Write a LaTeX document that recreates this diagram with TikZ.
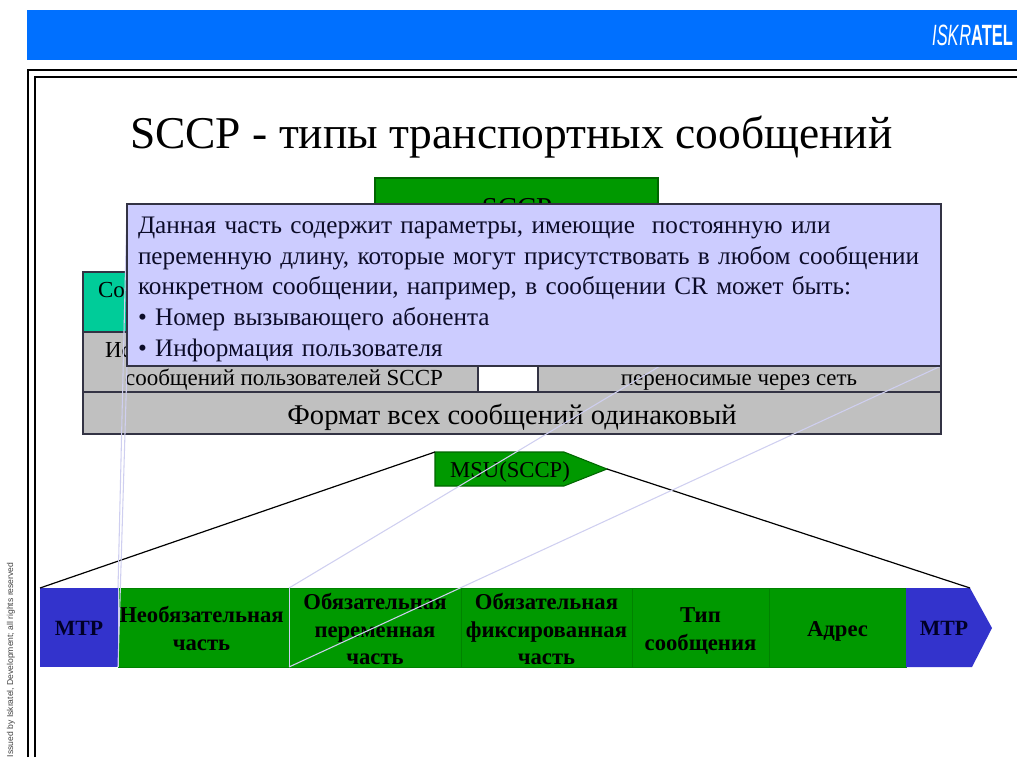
\documentclass[tikz,border=0pt]{standalone}
\usepackage{fontspec}
\setmainfont{Liberation Serif}
\setsansfont{Liberation Sans}
\usetikzlibrary{calc}
\pgfdeclarelayer{front}
\pgfsetlayers{main,front}
\def\px{0.75pt}
\definecolor{hdrblue}{HTML}{0070FF}
\definecolor{sgreen}{HTML}{009900}
\definecolor{edgegreen}{HTML}{006600}
\definecolor{barblue}{HTML}{3333CC}
\definecolor{teal}{HTML}{00CC99}
\definecolor{sgrey}{HTML}{C0C0C0}
\definecolor{callfill}{HTML}{CCCCFF}
\definecolor{calledge}{HTML}{333344}
\definecolor{leader}{HTML}{CFCFF0}
\definecolor{darktext}{HTML}{0C0C28}
\tikzset{
  block/.style={anchor=north west,inner sep=0pt,outer sep=0pt,draw=calledge,line width=1.1pt},
  sgreenbox/.style={block,fill=sgreen,draw=edgegreen,line width=.8pt},
  greybox/.style={block,fill=sgrey},
  seg/.style={anchor=north west,inner sep=0pt,outer sep=0pt,fill=sgreen,draw=sgreen!85!black,line width=.5pt,
     minimum height=79*\px},
  segtext/.style={inner sep=0pt,outer sep=0pt,align=center,font=\fontsize{17}{20.6}\selectfont\bfseries},
  mtpbox/.style={anchor=north west,inner sep=0pt,outer sep=0pt,fill=barblue,minimum height=79*\px},
  mtptext/.style={inner sep=0pt,outer sep=0pt,text=black!85!blue,font=\fontsize{16.3}{20}\selectfont\bfseries},
  frameline/.style={line width=1.7pt,black},
  leaderline/.style={leader,line width=.8pt},
  zoomline/.style={black,line width=.9pt},
  plain/.style={inner sep=0pt,outer sep=0pt},
}
\begin{document}
\begin{tikzpicture}[x=0.75pt,y=-0.75pt]
\useasboundingbox (0,0) rectangle (1024,767);
% header
\node[anchor=north west,inner sep=0pt,outer sep=0pt,fill=hdrblue,minimum width=990*\px,minimum height=50*\px] (hdr) at (27,10) {};
\node[plain,text=white] (logo) at (972.5,35) {\sffamily\fontsize{22}{22}\selectfont\scalebox{.56}[1]{\textit{ISK}\textit{R}\textbf{ATEL}}};
% frame
\coordinate (o1) at (28,757); \coordinate (o2) at (28,70); \coordinate (o3) at (1017,70);
\coordinate (i1) at (35,757); \coordinate (i2) at (35,77); \coordinate (i3) at (1017,77);
\draw[frameline] (o1) -- (o2) -- (o3);
\draw[frameline] (i1) -- (i2) -- (i3);
\node[plain,rotate=90,anchor=west,text=black!75,font=\sffamily\fontsize{6.43}{7}\selectfont] (issued) at (11,757) {Issued by Iskratel, Development; all rights reserved};
% title
\node[plain,anchor=base west,font=\fontsize{34.1}{40}\selectfont] (title) at (130,148) {SCCP - типы транспортных сообщений};
% table behind the callout
\node[sgreenbox,minimum width=283*\px,minimum height=80*\px] (sccp) at (375,178) {};
\node[plain,anchor=base,font=\fontsize{21.6}{24}\selectfont] (sccpt) at (517,217) {SCCP};
\node[block,fill=teal,minimum width=395*\px,minimum height=60*\px] (conn) at (83,272) {};
\node[plain,anchor=base west,font=\fontsize{17.2}{18}\selectfont] (connt) at (98,297) {Со};
\node[greybox,minimum width=395*\px,minimum height=60*\px] (users) at (83,332) {};
\node[plain,anchor=base west,font=\fontsize{17.2}{18}\selectfont] (userst) at (105,357) {Ис};
\node[plain,anchor=base,font=\fontsize{17.25}{18}\selectfont] (userst2) at (284,385) {сообщений пользователей SCCP};
\node[greybox,minimum width=403*\px,minimum height=60*\px] (net) at (538,332) {};
\node[plain,anchor=base,font=\fontsize{17.2}{18}\selectfont] (nett) at (739,385) {переносимые через сеть};
\node[greybox,minimum width=858*\px,minimum height=42*\px] (fmt) at (83,392) {};
\node[plain,anchor=base,font=\fontsize{21.4}{22}\selectfont] (fmtt) at (512,424) {Формат всех сообщений одинаковый};
% MSU
\coordinate (mnw) at (435,452);
\coordinate (mtip) at (607,469);
\draw[draw=edgegreen,line width=.8pt,fill=sgreen] (mnw) -- (564,452) -- (mtip) -- (564,486) -- (435,486) -- cycle;
\node[plain,anchor=base,font=\fontsize{17}{20}\selectfont] (msut) at (510,477) {MSU(SCCP)};
% message bar
\node[mtpbox,minimum width=78*\px] (mtpl) at (40,588) {};
\node[seg,minimum width=171*\px] (opt) at (118,588) {};
\node[seg,minimum width=172*\px] (var) at (289,588) {};
\node[seg,minimum width=171*\px] (fix) at (461,588) {};
\node[seg,minimum width=137*\px] (typ) at (632,588) {};
\node[seg,minimum width=137*\px] (adr) at (769,588) {};
\coordinate (tipa) at (906,588); \coordinate (tipb) at (970,588); \coordinate (tipc) at (992,628);
\coordinate (tipd) at (972,667); \coordinate (tipe) at (906,667);
\fill[barblue] (tipa) -- (tipb) -- (tipc) -- (tipd) -- (tipe) -- cycle;
\node[mtptext] (mtplt) at (79,628) {МТР};
\node[segtext] (optt) at ($(opt.center)+(-2,1)$) {Необязательная\\часть};
\node[segtext] (vart) at ($(var.center)+(0,1.5)$) {Обязательная\\переменная\\часть};
\node[segtext] (fixt) at ($(fix.center)+(0,1.5)$) {Обязательная\\фиксированная\\часть};
\node[segtext] (typt) at ($(typ.center)+(0,3.5)$) {Тип\\сообщения};
\node[segtext] (adrt) at ($(adr.center)+(0,4)$) {Адрес};
\node[mtptext] (mtprt) at (944,628) {МТР};
% zoom lines
\draw[zoomline] (mnw) -- (mtpl.north west);
\draw[zoomline] (mtip) -- (tipb);
% callout
\begin{pgfonlayer}{front}
\node[block,fill=callfill,minimum width=814*\px,minimum height=162*\px] (call) at (127,204) {};
\node[plain,anchor=north west,text width=795*\px,align=left,text=darktext,font=\fontsize{18.9}{23}\selectfont] (calltext) at (138,217)
 {Данная часть содержит параметры, имеющие\ \ постоянную или\\
  переменную длину, которые могут присутствовать в любом сообщении\\
  конкретном сообщении, например, в сообщении CR может быть:\\
  • Номер вызывающего абонента\\
  • Информация пользователя};
\end{pgfonlayer}
\coordinate (cb) at (660,366);
\draw[leaderline] (call.north west) -- (opt.north west);
\draw[leaderline] (call.south west) -- (opt.south west);
\draw[leaderline] (cb) -- (var.north west);
\draw[leaderline] (call.south east) -- (var.south west);
\draw[leaderline,line width=.6pt] (var.north west) -- (var.south west);
\draw[leaderline,line width=.6pt] (opt.north west) -- (opt.south west);
\end{tikzpicture}
\end{document}
